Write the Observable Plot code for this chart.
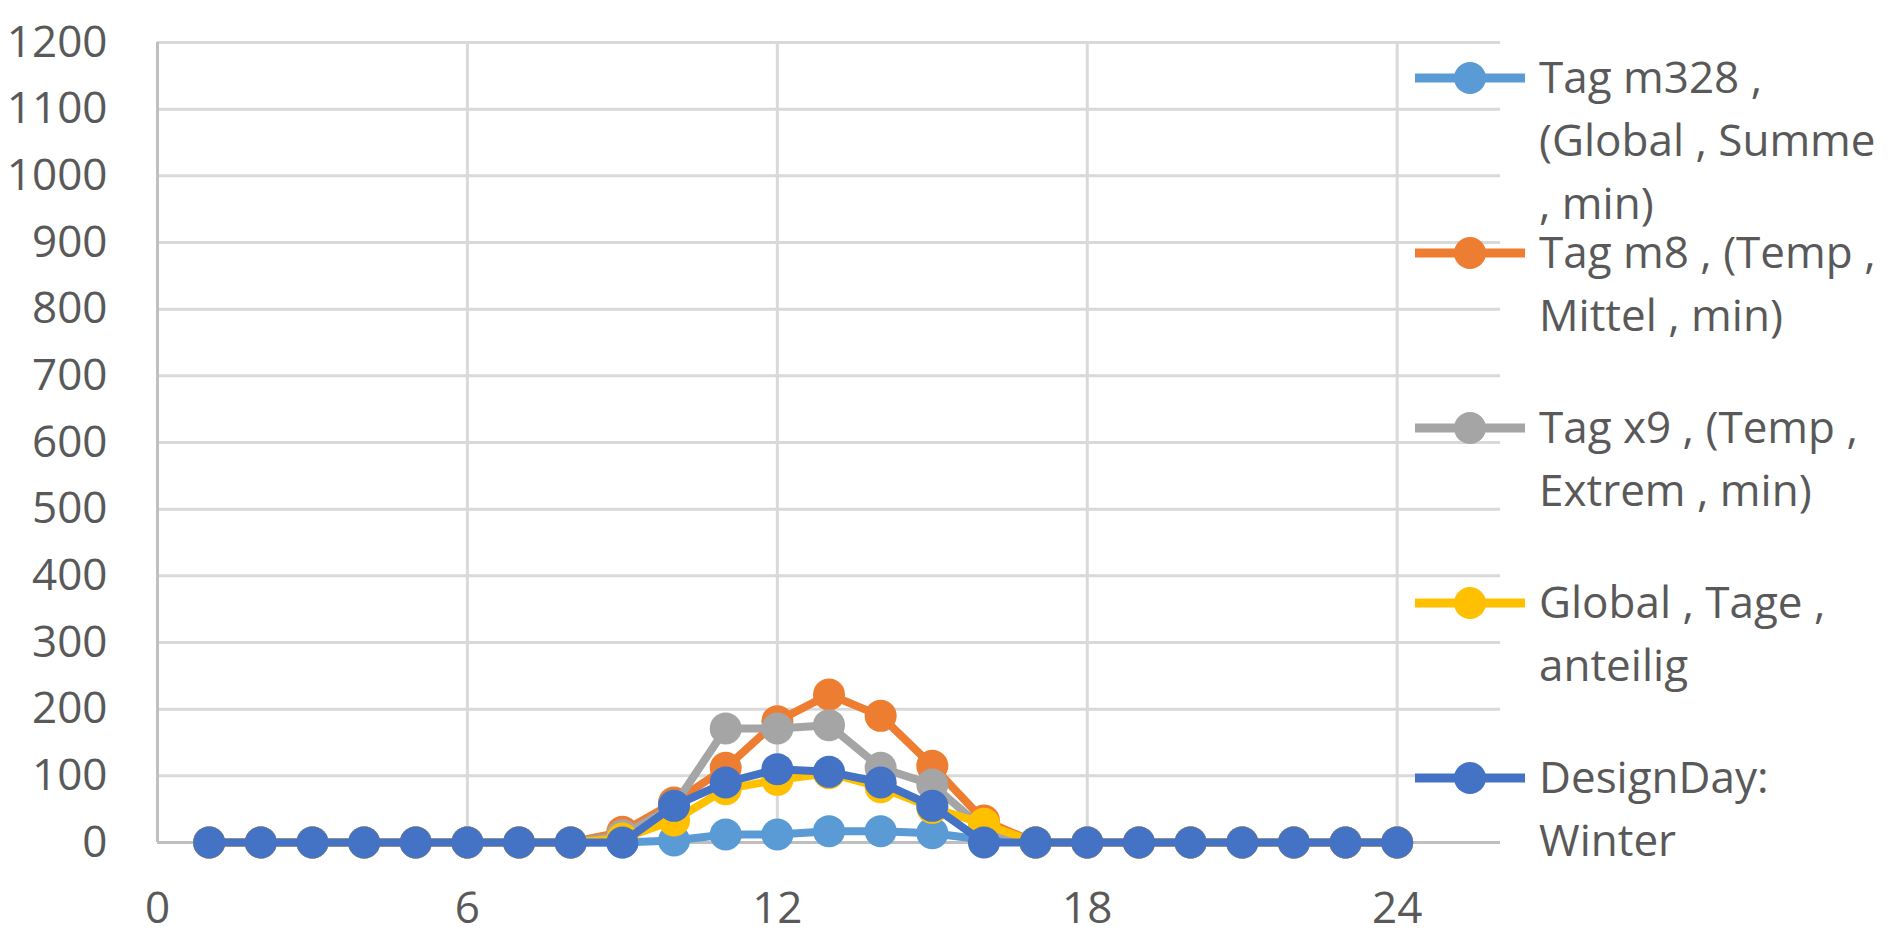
<!DOCTYPE html>
<html>
<head>
<meta charset="utf-8">
<script src="https://cdn.jsdelivr.net/npm/d3@7"></script>
<script src="https://cdn.jsdelivr.net/npm/@observablehq/plot@0.6"></script>
<style>
  html, body { margin: 0; padding: 0; background: white; overflow: hidden; }
  #wrap { position: relative; width: 1890px; height: 944px; }
  #legend { position: absolute; left: 0; top: 0; pointer-events: none; }
</style>
</head>
<body>
<div id="wrap"></div>
<script>
// ---- data ----
const hours = [1,2,3,4,5,6,7,8,9,10,11,12,13,14,15,16,17,18,19,20,21,22,23,24];
const tagM328   = [0,0,0,0,0,0,0,0,0,3,12,12,17,17,14,4,0,0,0,0,0,0,0,0];
const tagM8     = [0,0,0,0,0,0,0,0,16,60,112,182,222,190,115,33,0,0,0,0,0,0,0,0];
const tagX9     = [0,0,0,0,0,0,0,0,11,55,171,171,176,112,87,20,0,0,0,0,0,0,0,0];
const globalTage= [0,0,0,0,0,0,0,0,6,33,80,94,104,83,52,28,0,0,0,0,0,0,0,0];
const designDay = [0,0,0,0,0,0,0,0,0,55,90,110,106,90,55,0,0,0,0,0,0,0,0,0];
const seriesNames = [
  ["Tag m328 ,", "(Global , Summe", ", min)"],
  ["Tag m8 , (Temp ,", "Mittel , min)"],
  ["Tag x9 , (Temp ,", "Extrem , min)"],
  ["Global , Tage ,", "anteilig"],
  ["DesignDay:", "Winter"]
];
const seriesValues = [tagM328, tagM8, tagX9, globalTage, designDay];
const seriesColors = ["#5B9BD5", "#ED7D31", "#A5A5A5", "#FFC000", "#4472C4"];
const xTicks = [0, 6, 12, 18, 24];
const yTicks = [0,100,200,300,400,500,600,700,800,900,1000,1100,1200];

// ---- chart ----
const font = "'Open Sans', sans-serif";
const textColor = "#595959";
const seriesMarks = seriesValues.flatMap((vals, k) => {
  const rows = hours.map((h, i) => ({hour: h, value: vals[i]}));
  return [
    Plot.line(rows, {x: "hour", y: "value", stroke: seriesColors[k], strokeWidth: 8, strokeLinejoin: "round"}),
    Plot.dot(rows, {x: "hour", y: "value", r: 16, fill: seriesColors[k], stroke: "none"})
  ];
});

const chart = Plot.plot({
  width: 1890,
  height: 944,
  marginLeft: 157,
  marginRight: 390,
  marginTop: 42,
  marginBottom: 102,
  x: {domain: [0, 26]},
  y: {domain: [0, 1200]},
  style: {fontFamily: font, fontSize: "44px", color: textColor, background: "white", overflow: "visible"},
  marks: [
    Plot.gridY(yTicks.filter(d => d > 0), {stroke: "#d9d9d9", strokeOpacity: 1, strokeWidth: 3}),
    Plot.gridX(xTicks.filter(d => d > 0), {stroke: "#d9d9d9", strokeOpacity: 1, strokeWidth: 3}),
    Plot.ruleX([0], {stroke: "#bfbfbf", strokeWidth: 3}),
    Plot.ruleY([0], {stroke: "#bfbfbf", strokeWidth: 3}),
    Plot.axisY(yTicks, {tickSize: 0, tickPadding: 50, label: null, tickFormat: d => String(d)}),
    Plot.axisX(xTicks, {tickSize: 0, tickPadding: 49, label: null, tickFormat: d => String(d)}),
    ...seriesMarks
  ]
});
const wrap = document.getElementById("wrap");
wrap.appendChild(chart);

// ---- legend (right side) ----
const legendTop = 78, legendStep = 175, lineHeight = 63;
const lg = d3.create("svg")
  .attr("id", "legend")
  .attr("width", 1890)
  .attr("height", 944)
  .style("font-family", font)
  .style("font-size", "44px");
seriesNames.forEach((lines, k) => {
  const cy = legendTop + k * legendStep;
  const g = lg.append("g");
  g.append("line").attr("x1", 1415).attr("x2", 1525).attr("y1", cy).attr("y2", cy)
    .attr("stroke", seriesColors[k]).attr("stroke-width", 9);
  g.append("circle").attr("cx", 1470).attr("cy", cy).attr("r", 16).attr("fill", seriesColors[k]);
  lines.forEach((t, j) => {
    g.append("text").attr("x", 1539).attr("y", cy + 15 + j * lineHeight)
      .attr("fill", textColor).text(t);
  });
});
wrap.appendChild(lg.node());
</script>
</body>
</html>
